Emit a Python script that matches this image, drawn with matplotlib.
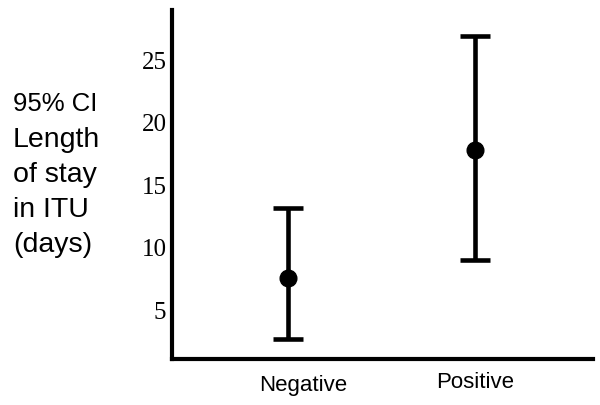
import matplotlib
matplotlib.use("Agg")
import matplotlib.pyplot as plt

# data
groups = ["Negative", "Positive"]
means = [7.6, 17.8]
ci_low = [2.7, 9.0]
ci_high = [13.2, 26.9]
yticks = [5, 10, 15, 20, 25]

fig = plt.figure(figsize=(6.0, 4.05), dpi=100)
# axes placed to match the reference pixel box (x 172..593, y 10..359)
ax = fig.add_axes([172 / 600, 1 - 359 / 405, (593 - 172) / 600, (359 - 10) / 405])

x = list(range(len(groups)))
err_lo = [m - lo for m, lo in zip(means, ci_low)]
err_hi = [hi - m for m, hi in zip(means, ci_high)]
ax.errorbar(x, means, yerr=[err_lo, err_hi], fmt="o", color="black",
            ecolor="black", elinewidth=3.3, capsize=11, capthick=3.3,
            markersize=12)

ax.set_xlim(-0.62, 1.63)
ax.set_ylim(1.1, 29)

ax.spines["top"].set_visible(False)
ax.spines["right"].set_visible(False)
for side in ("left", "bottom"):
    ax.spines[side].set_linewidth(3)
    ax.spines[side].set_capstyle("projecting")

ax.set_yticks(yticks)
ax.set_yticklabels([str(t) for t in yticks], family="Liberation Serif", fontsize=18)
ax.tick_params(axis="y", length=0, pad=4)

# category labels drawn as text so each can sit where the reference has it
ax.set_xticks([])
label_dx = [15, 0]     # pixels right of the bar
label_dy = [-26, -24]  # pixels below the axis line
for xi, name, dx, dy in zip(x, groups, label_dx, label_dy):
    ax.annotate(name, xy=(xi, 0), xycoords=("data", "axes fraction"),
                xytext=(dx * 0.72, dy * 0.72), textcoords="offset points",
                ha="center", va="center", family="Liberation Sans", fontsize=16)

fig.text(13 / 600, 1 - 104 / 405, "95% CI", family="Liberation Sans",
         fontsize=18.5, va="center", ha="left")
for i, line in enumerate(["Length", "of stay", "in ITU", "(days)"]):
    fig.text(13 / 600, 1 - (140 + 35 * i) / 405, line, family="Liberation Sans",
             fontsize=20.5, va="center", ha="left")

fig.savefig("out.png", dpi=100)
